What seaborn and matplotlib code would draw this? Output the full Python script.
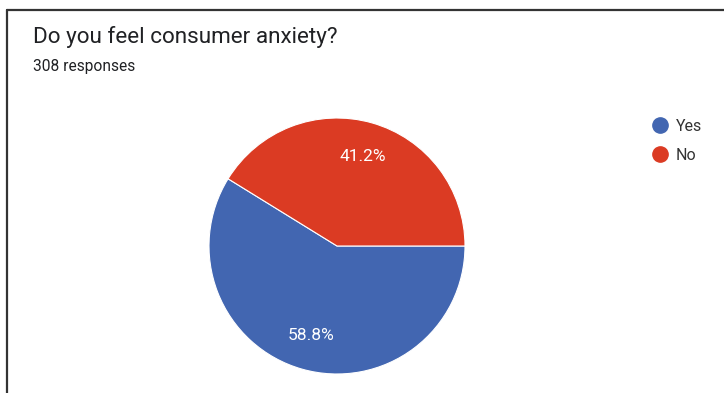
import matplotlib
matplotlib.use("Agg")
import matplotlib.pyplot as plt
from matplotlib.lines import Line2D
import seaborn as sns

categories = ["Yes", "No"]
shares = [58.8, 41.2]
colors = ["#4266B1", "#DB3B23"]
title = "Do you feel consumer anxiety?"
subtitle = "308 responses"

sns.set_theme(style="white")
plt.rcParams["font.family"] = ["Roboto", "DejaVu Sans"]

W, H = 724, 393
fig = plt.figure(figsize=(W / 100, H / 100), dpi=100)
fig.patch.set_facecolor("white")

cx, cy, r = 337, 246, 128
ax = fig.add_axes([(cx - r) / W, (H - cy - r) / H, 2 * r / W, 2 * r / H])
start = 360 - shares[0] / 100 * 360
wedges, texts, autotexts = ax.pie(
    shares, colors=sns.color_palette(colors), startangle=start, counterclock=True,
    autopct="%.1f%%", pctdistance=0.73,
    wedgeprops=dict(edgecolor="white", linewidth=0.8),
    textprops=dict(color="white", fontsize=12.5),
)
ax.set_xlim(-1, 1)
ax.set_ylim(-1, 1)
ax.set_aspect("equal")
ax.axis("off")

fig.text(33 / W, 1 - 37 / H, title, fontsize=16.2, color="#202124", va="center", ha="left")
fig.text(33 / W, 1 - 67 / H, subtitle, fontsize=11.2, color="#202124", va="center", ha="left")

handles = [Line2D([0], [0], marker="o", linestyle="", markersize=11,
                  markerfacecolor=c, markeredgecolor=c) for c in colors]
leg = fig.legend(handles, categories, loc="upper left", bbox_to_anchor=(652 / W, 1 - 119 / H),
                 frameon=False, fontsize=11.5, handletextpad=0.5, labelspacing=0.85,
                 handlelength=1.0, borderpad=0, borderaxespad=0)
for t in leg.get_texts():
    t.set_color("#333333")

fig.add_artist(Line2D([7 / W, 1], [1 - 10 / H, 1 - 10 / H], color="#333333", linewidth=1.6,
                      transform=fig.transFigure))
fig.add_artist(Line2D([7 / W, 7 / W], [1 - 10 / H, 0], color="#333333", linewidth=1.6,
                      transform=fig.transFigure))

fig.savefig("out.png", dpi=100, facecolor="white")
